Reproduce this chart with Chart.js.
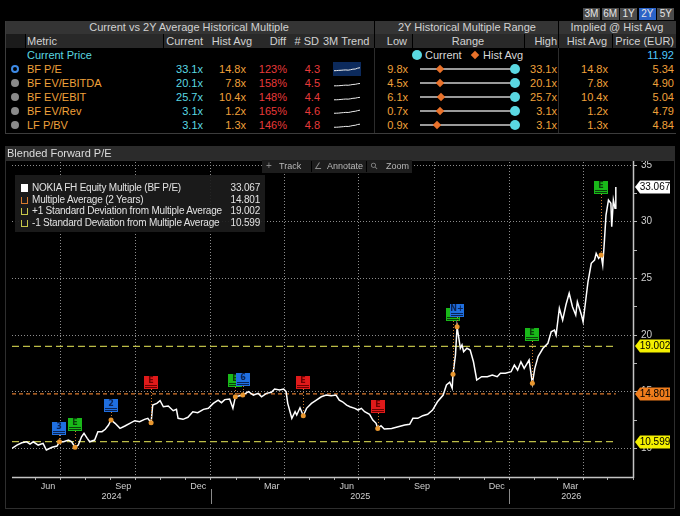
<!DOCTYPE html>
<html>
<head>
<meta charset="utf-8">
<title>NOKIA FH Blended Forward P/E</title>
<script src="https://cdn.jsdelivr.net/npm/chart.js@4.4.1/dist/chart.umd.min.js"></script>
<style>
html,body{margin:0;padding:0;background:#000;}
#page{position:relative;width:680px;height:516px;overflow:hidden;background:#000;
font-family:"Liberation Sans",Arial,sans-serif;font-size:11px;color:#cfcfcf;}
#page div{position:absolute;}
.t{white-space:nowrap;line-height:14px;height:14px;}
canvas{position:absolute;}
</style>
</head>
<body>
<div id="page">
<canvas id="peChart" width="670" height="350" style="left:5px;top:155px;width:670px;height:350px"></canvas>
</div>
<script>
/* -------- TABLE DATA -------- */
const rangeButtons = ['3M','6M','1Y','2Y','5Y'];
const metricNames = ['BF P/E','BF EV/EBITDA','BF EV/EBIT','BF EV/Rev','LF P/BV'];
const currentMult = [33.1,20.1,25.7,3.1,3.1];
const histAvgMult = [14.8,7.8,10.4,1.2,1.3];
const diffPct = [123,158,148,165,146];
const sdCount = [4.3,4.5,4.4,4.6,4.8];
const lowMult = [9.8,4.5,6.1,0.7,0.9];
const highMult = [33.1,20.1,25.7,3.1,3.1];
const impliedPrice = [5.34,4.90,5.04,4.79,4.84];
const currentPrice = 11.92;

const trendPE = [19.5,20,21,21.5,22.5,23,22,24,26.5,27,31,33.1];
const trendEvEbitda = [11.5,11.6,11.9,12.6,13.4,14,13.6,15,16.5,17,19,20.1];
const trendEvEbit = [14.5,14.7,15.2,16.2,17.2,18,17.5,19.2,21.3,22,24.5,25.7];
const trendEvRev = [1.7,1.72,1.78,1.9,2.0,2.1,2.05,2.25,2.5,2.6,2.9,3.1];
const trendPBV = [1.7,1.71,1.78,1.88,1.98,2.1,2.05,2.25,2.5,2.6,2.95,3.1];

/* -------- CHART DATA -------- */
const dates = [
'2024-05-03','2024-05-09','2024-05-15','2024-05-21','2024-05-25','2024-05-29','2024-06-04','2024-06-10',
'2024-06-14','2024-06-21','2024-06-27','2024-06-30','2024-07-05','2024-07-11','2024-07-15','2024-07-19',
'2024-07-23','2024-07-27','2024-07-30','2024-08-03','2024-08-06','2024-08-12','2024-08-16','2024-08-21',
'2024-08-25','2024-08-29','2024-09-01','2024-09-06','2024-09-12','2024-09-18','2024-09-24','2024-09-30',
'2024-10-06','2024-10-12','2024-10-16','2024-10-20','2024-10-22','2024-10-27','2024-10-31','2024-11-04',
'2024-11-10','2024-11-16','2024-11-20','2024-11-22','2024-11-28','2024-12-04','2024-12-10','2024-12-16',
'2024-12-23','2024-12-29','2025-01-04','2025-01-10','2025-01-14','2025-01-18','2025-01-24','2025-01-28',
'2025-01-31','2025-02-09','2025-02-16','2025-02-22','2025-02-28','2025-03-04','2025-03-10','2025-03-16',
'2025-03-20','2025-03-26','2025-03-31','2025-04-03','2025-04-05','2025-04-10','2025-04-14','2025-04-16',
'2025-04-20','2025-04-24','2025-04-28','2025-05-04','2025-05-10','2025-05-16','2025-05-22','2025-05-28',
'2025-06-03','2025-06-07','2025-06-11','2025-06-16','2025-06-20','2025-06-26','2025-06-30','2025-07-04',
'2025-07-08','2025-07-14','2025-07-18','2025-07-22','2025-07-24','2025-07-28','2025-08-01','2025-08-10',
'2025-08-18','2025-08-26','2025-09-01','2025-09-05','2025-09-11','2025-09-17','2025-09-23','2025-09-29',
'2025-10-05','2025-10-12','2025-10-16','2025-10-20','2025-10-23','2025-10-24','2025-10-27','2025-10-29',
'2025-11-02','2025-11-04','2025-11-06','2025-11-10','2025-11-14','2025-11-18','2025-11-22','2025-11-28',
'2025-12-05','2025-12-11','2025-12-17','2025-12-21','2025-12-27','2026-01-03','2026-01-07','2026-01-11',
'2026-01-15','2026-01-19','2026-01-25','2026-01-29','2026-02-01','2026-02-05','2026-02-11','2026-02-17',
'2026-02-21','2026-02-25','2026-02-27','2026-03-03','2026-03-07','2026-03-11','2026-03-15','2026-03-19',
'2026-03-23','2026-03-25','2026-03-30','2026-04-01','2026-04-05','2026-04-07','2026-04-11','2026-04-15',
'2026-04-17','2026-04-20','2026-04-23','2026-04-25','2026-04-27','2026-04-29','2026-05-02','2026-05-05',
'2026-05-06','2026-05-08','2026-05-10','2026-05-11'
];
const multiple = [
10.00,10.29,10.49,10.58,10.38,10.58,10.29,10.44,
9.85,10.09,10.20,10.58,10.58,10.73,10.58,10.09,
10.29,11.02,11.32,10.88,10.58,10.73,11.47,11.47,
11.68,12.06,12.50,12.21,11.76,11.97,12.21,12.44,
12.35,12.56,12.65,12.26,13.82,13.97,14.20,13.67,
13.73,13.32,13.44,12.65,12.56,12.74,13.23,13.14,
13.44,13.53,13.97,14.26,14.03,14.30,14.35,13.53,
14.55,14.70,15.00,14.70,14.85,14.55,14.85,14.94,
15.23,15.15,15.23,15.00,13.97,12.65,13.23,12.94,
13.58,12.88,13.53,13.97,14.26,14.55,14.70,14.64,
14.70,14.26,14.11,13.82,13.67,13.53,13.38,13.53,
13.23,13.00,12.50,12.21,11.76,11.99,11.70,11.76,
11.91,12.06,12.12,12.65,12.65,12.88,13.00,13.38,
14.11,14.70,15.59,15.83,15.30,16.53,18.23,20.73,
18.83,19.12,18.53,18.83,18.68,17.64,16.03,16.32,
16.32,16.47,16.32,16.62,16.62,16.76,17.35,16.91,
17.64,17.06,17.79,15.74,17.06,18.09,18.83,19.27,
20.29,20.44,20.00,22.36,21.32,22.65,23.68,22.50,
21.77,22.94,21.77,21.17,23.53,24.70,26.33,26.62,
27.21,26.77,27.06,26.18,28.24,30.59,31.91,31.62,
29.56,31.91,31.18,33.067
];
const lastMultiple = 33.067;
const avgMultiple = 14.801;
const plusSD = 19.002;
const minusSD = 10.599;

const eventDates = ['2024-06-30','2024-07-19','2024-09-01','2024-10-20','2025-01-31','2025-02-09',
'2025-04-24','2025-07-24','2025-10-24','2025-10-29','2026-01-29','2026-04-23'];
const eventLabels = ['3','E','2','E','E','6','E','E','E','N+','E','E'];
const eventKinds = ['blue','green','blue','red','green','blue','red','red','green','blue','green','green'];
const eventFlagTop = [12.35,12.65,14.32,16.38,16.53,16.67,16.38,14.26,22.38,22.71,20.64,33.59];

const yTickValues = [10,12.5,15,17.5,20,22.5,25,27.5,30,32.5,35];
const monthNames = ['Jan','Feb','Mar','Apr','May','Jun','Jul','Aug','Sep','Oct','Nov','Dec'];
const monthLabelKeys = ['2024-06','2024-09','2024-12','2025-03','2025-06','2025-09','2025-12','2026-03'];
const yearLabels = ['2024','2025','2026'];

/* -------- HELPERS -------- */
const page = document.getElementById('page');
const BASE = Date.UTC(2025,0,1);
function dayOf(s){
const p = s.split('-');
return (Date.UTC(+p[0],+p[1]-1,+(p[2]||1))-BASE)/864e5;
}
function box(x,y,w,h,bg,extra){
const d=document.createElement('div');
d.style.cssText=`left:${x}px;top:${y}px;width:${w}px;height:${h}px;background:${bg};${extra||''}`;
page.appendChild(d);
return d;
}
function txt(s,x,yc,color,align,size,extra){
const d=document.createElement('div');
d.className='t';
d.textContent=s;
let css=`top:${yc-7}px;color:${color};font-size:${size||11}px;`;
if(align==='right') css+=`right:${680-x}px;text-align:right;`;
else if(align==='center') css+=`left:${x-150}px;width:300px;text-align:center;`;
else css+=`left:${x}px;`;
d.style.cssText=css+(extra||'');
page.appendChild(d);
return d;
}

const ORANGE='#f0a13a', CYAN='#5ad8e2', RED='#e83a3a', HEAD='#d2d2d2';

/* -------- TOP TABLE -------- */
rangeButtons.forEach((b,i)=>{
const x=583+i*18.6;
box(x,8,17,12,b==='2Y'?'#2b63c8':'#4b4b4b');
txt(b,x+8.5,14,'#e6e6e6','center',10);
});

box(5,21,671,13,'#343434');
box(5,34,671,14,'#292929');
box(5,34,20,14,'#1b1b1b');
[374,558].forEach(x=>box(x,21,1,27,'#000'));
[25,163,412,524,612].forEach(x=>box(x,34,1,14,'#000'));
[374,558].forEach(x=>box(x,48,1,86,'#2c2c2c'));
box(5,21,1,113,'#3c3c3c');
box(5,133,671,1,'#3c3c3c');

txt('Current vs 2Y Average Historical Multiple',189,27,HEAD,'center');
txt('2Y Historical Multiple Range',467,27,HEAD,'center');
txt('Implied @ Hist Avg',617,27,HEAD,'center');

txt('Metric',27,41,HEAD);
txt('Current',203,41,HEAD,'right');
txt('Hist Avg',252,41,HEAD,'right');
txt('Diff',286,41,HEAD,'right');
txt('# SD',319,41,HEAD,'right');
txt('3M Trend',323,41,HEAD);
txt('Low',407,41,HEAD,'right');
txt('Range',468,41,HEAD,'center');
txt('High',557,41,HEAD,'right');
txt('Hist Avg',607,41,HEAD,'right');
txt('Price (EUR)',674,41,HEAD,'right');

txt('Current Price',27,55,CYAN);
box(412,50,10,10,CYAN,'border-radius:50%;');
txt('Current',425,55,'#d8d8d8');
box(472,52,6,6,'#e8712a','transform:rotate(45deg);');
txt('Hist Avg',483,55,'#d8d8d8');
txt(currentPrice.toFixed(2),674,55,'#4fc8ff','right');

const rowY=[69,83,97,111,125];
const trends=[trendPE,trendEvEbitda,trendEvEbit,trendEvRev,trendPBV];
metricNames.forEach((m,i)=>{
const y=rowY[i];
if(i===0) box(11,y-4,8,8,'#000','border:2px solid #3d8ae6;border-radius:50%;box-sizing:border-box;');
else box(11,y-4,8,8,'#8a8a8a','border-radius:50%;');
txt(m,27,y,ORANGE);
txt(currentMult[i].toFixed(1)+'x',203,y,CYAN,'right');
txt(histAvgMult[i].toFixed(1)+'x',246,y,ORANGE,'right');
txt(diffPct[i]+'%',287,y,RED,'right');
txt(sdCount[i].toFixed(1),320,y,RED,'right');
txt(lowMult[i].toFixed(1)+'x',408,y,ORANGE,'right');
txt(highMult[i].toFixed(1)+'x',557,y,ORANGE,'right');
txt(histAvgMult[i].toFixed(1)+'x',608,y,ORANGE,'right');
txt(impliedPrice[i].toFixed(2),674,y,ORANGE,'right');

// range slider
const x0=420, w=95;
box(x0,y-1,w,2,'#9a9a9a');
const hx=x0+(histAvgMult[i]-lowMult[i])/(highMult[i]-lowMult[i])*w;
const cx=x0+(currentMult[i]-lowMult[i])/(highMult[i]-lowMult[i])*w;
box(hx-3,y-3,6,6,'#e8712a','transform:rotate(45deg);');
box(cx-5,y-5,10,10,CYAN,'border-radius:50%;');

// 3M trend sparkline
if(i===0) box(333,y-7,28,14,'#0c2a5c');
const c=document.createElement('canvas');
c.width=28;c.height=13;
c.style.cssText=`left:333px;top:${y-6}px;width:28px;height:13px;`;
page.appendChild(c);
new Chart(c,{
type:'line',
data:{labels:trends[i].map((v,k)=>k),datasets:[{data:trends[i],borderColor:'#ececec',borderWidth:1,pointRadius:0,tension:0}]},
options:{responsive:false,animation:false,events:[],layout:{padding:1},
plugins:{legend:{display:false},tooltip:{enabled:false}},
scales:{x:{display:false},y:{display:false}}}
});
});

/* -------- CHART FRAME -------- */
box(5,146,670,14,'#2b2b2b');
txt('Blended Forward P/E',7,153,'#dcdcdc','left',11);
box(5,160,670,349,'transparent','border:1px solid #2e2e2e;box-sizing:border-box;');

box(262,160,150,13,'#1d1d1d');
txt('+',266,166,'#8a8a8a','left',10);
txt('Track',279,166,'#b8b8b8','left',9);
box(311,161,1,11,'#000');
txt('\u2220',314,166,'#8a8a8a','left',9,'font-family:"DejaVu Sans";');
txt('Annotate',327,166,'#b8b8b8','left',9);
box(366,161,1,11,'#000');
txt('\u26B2',371,166,'#8a8a8a','left',9,'font-family:"DejaVu Sans";transform:rotate(-45deg);');
txt('Zoom',386,166,'#b8b8b8','left',9);

/* -------- LEGEND -------- */
box(15,175,250,57,'rgba(28,28,28,0.92)');
const legendNames=['NOKIA FH Equity Multiple (BF P/E)','Multiple Average (2 Years)','+1 Standard Deviation from Multiple Average','-1 Standard Deviation from Multiple Average'];
const legendValues=[lastMultiple,avgMultiple,plusSD,minusSD];
const legendColors=['#ffffff','#d8792d','#c8c84a','#c8c84a'];
const legendY=[188,200,211,223];
legendNames.forEach((n,i)=>{
const y=legendY[i];
if(i===0) box(21,y-4,7,8,'#fff');
else box(21,y-3,5,6,'transparent',`border:1px solid ${legendColors[i]};border-top:none;`);
txt(n,32,y,'#e2e2e2','left',10,'letter-spacing:-0.2px;');
txt(legendValues[i].toFixed(3),260,y,'#e2e2e2','right',10,'letter-spacing:-0.2px;');
});

/* -------- MAIN CHART -------- */
Chart.defaults.font.family='"Liberation Sans", Arial, sans-serif';

const xMin=dayOf(dates[0]);
const xMax=dayOf('2026-06-01');
const xEnd=dayOf(dates[dates.length-1]);

const monthStarts=[];
const quarterStarts=new Set();
for(let y=2024,m=5; y<2026||m<=5; ){
const v=(Date.UTC(y,m,1)-BASE)/864e5;
monthStarts.push(v);
if(m%3===0) quarterStarts.add(v);
m++; if(m>11){m=0;y++;}
}
const monthStartSet=new Set(monthStarts);
const monthLabelAt={};
monthLabelKeys.forEach(k=>{
const p=k.split('-');
const s=(Date.UTC(+p[0],+p[1]-1,1)-BASE)/864e5;
const e=(Date.UTC(+p[0],+p[1],1)-BASE)/864e5;
monthLabelAt[(s+e)/2]=monthNames[+p[1]-1];
});
const monthLabelDays=Object.keys(monthLabelAt).map(Number);

const yearBreaks=[dayOf('2025-01-01'),dayOf('2026-01-01')];
const yearEdges=[xMin].concat(yearBreaks,[xMax]);
const yearMid=yearLabels.map((l,i)=>(yearEdges[i]+yearEdges[i+1])/2);

const seriesPts=dates.map((d,i)=>({x:dayOf(d),y:multiple[i]}));
const eventValues=eventDates.map(d=>multiple[dates.indexOf(d)]);
const eventPts=eventDates.map((d,i)=>({x:dayOf(d),y:eventValues[i]}));
const flat=v=>[{x:xMin,y:v},{x:xEnd,y:v}];

const flagColors={
blue:{fill:'#1f6fe0',ink:'#0b2352'},
green:{fill:'#19b819',ink:'#0a3d0a'},
red:{fill:'#e01a1a',ink:'#6b0000'}
};

const bbgDecor={
id:'bbgDecor',
afterDatasetsDraw(chart){
const {ctx,chartArea:a,scales:{x,y}}=chart;
ctx.save();
eventDates.forEach((d,i)=>{
const px=Math.round(x.getPixelForValue(dayOf(d)));
const top=Math.round(y.getPixelForValue(eventFlagTop[i]));
const dotY=y.getPixelForValue(eventValues[i]);
ctx.strokeStyle='#c9782c';
ctx.lineWidth=1;
ctx.setLineDash([1,2]);
ctx.beginPath();ctx.moveTo(px+0.5,top+13);ctx.lineTo(px+0.5,dotY-2);ctx.stroke();
ctx.setLineDash([]);
const c=flagColors[eventKinds[i]];
ctx.fillStyle=c.fill;
ctx.fillRect(px-7,top,14,13);
ctx.fillStyle=c.ink;
ctx.fillRect(px-6,top+9,12,1);
ctx.fillRect(px-6,top+11,12,1);
ctx.font='bold 8px "DejaVu Sans", sans-serif';
ctx.textAlign='center';ctx.textBaseline='middle';
ctx.fillText(eventLabels[i],px,top+5);
});
ctx.restore();
},
afterDraw(chart){
const {ctx,chartArea:a,scales:{x,y}}=chart;
ctx.save();
// axis lines
ctx.strokeStyle='#c4c4c4';ctx.lineWidth=1.5;
ctx.beginPath();
ctx.moveTo(a.left,a.bottom+0.5);ctx.lineTo(a.right+1,a.bottom+0.5);
ctx.moveTo(a.right+0.5,a.top-2);ctx.lineTo(a.right+0.5,a.bottom+1);
ctx.stroke();
// year labels and separators
ctx.strokeStyle='#8a8a8a';ctx.lineWidth=1;
yearBreaks.forEach(v=>{
const px=Math.round(x.getPixelForValue(v))+0.5;
ctx.beginPath();ctx.moveTo(px,a.bottom+12);ctx.lineTo(px,a.bottom+27);ctx.stroke();
});
ctx.fillStyle='#cfcfcf';
ctx.font='9px "Liberation Sans", Arial, sans-serif';
ctx.textAlign='center';ctx.textBaseline='middle';
yearLabels.forEach((l,i)=>ctx.fillText(l,x.getPixelForValue(yearMid[i]),a.bottom+20));
// value tags on the right axis
const tags=[[plusSD,'#f4f000','#000'],[avgMultiple,'#f07d1c','#000'],[minusSD,'#f4f000','#000'],[lastMultiple,'#ffffff','#000']];
ctx.font='10px "Liberation Sans", Arial, sans-serif';
tags.forEach(([v,bg,fg])=>{
const ty=Math.round(y.getPixelForValue(v));
const x0=a.right+2;
ctx.fillStyle=bg;
ctx.beginPath();
ctx.moveTo(x0,ty);ctx.lineTo(x0+5,ty-6.5);ctx.lineTo(x0+35,ty-6.5);
ctx.lineTo(x0+35,ty+6.5);ctx.lineTo(x0+5,ty+6.5);ctx.closePath();
ctx.fill();
ctx.fillStyle=fg;
ctx.fillText(v.toFixed(3),x0+20,ty+0.5);
});
ctx.restore();
}
};

new Chart(document.getElementById('peChart'),{
type:'line',
data:{
datasets:[
{data:eventPts,showLine:false,pointRadius:2.5,pointBackgroundColor:'#e8962e',pointBorderWidth:0,order:0},
{data:seriesPts,borderColor:'#ffffff',borderWidth:1.5,pointRadius:0,tension:0,order:1},
{data:flat(avgMultiple),borderColor:'#d9782d',borderWidth:1.2,borderDash:[4,3],pointRadius:0,order:2},
{data:flat(plusSD),borderColor:'#bcbc46',borderWidth:1.2,borderDash:[7,4],pointRadius:0,order:3},
{data:flat(minusSD),borderColor:'#bcbc46',borderWidth:1.2,borderDash:[7,4],pointRadius:0,order:4}
]
},
options:{
responsive:false,
animation:false,
events:[],
layout:{padding:{left:7,top:7,right:0,bottom:0}},
plugins:{legend:{display:false},tooltip:{enabled:false}},
scales:{
x:{
type:'linear',position:'bottom',min:xMin,max:xMax,
afterBuildTicks:s=>{s.ticks=monthStarts.concat(monthLabelDays).sort((p,q)=>p-q).map(v=>({value:v}));},
afterFit:s=>{s.height=28;s.paddingLeft=0;s.paddingRight=0;},
ticks:{autoSkip:false,maxRotation:0,color:'#cfcfcf',font:{size:9},padding:1,
callback:v=>monthLabelAt[v]||''},
grid:{
color:c=>c.tick&&quarterStarts.has(c.tick.value)?'#8c8c8c':'rgba(0,0,0,0)',
tickColor:c=>c.tick&&monthStartSet.has(c.tick.value)?'#aaaaaa':'rgba(0,0,0,0)',
tickLength:3,lineWidth:1
},
border:{display:false,dash:[1,2]}
},
y:{
position:'right',min:7.47,max:35.27,
afterBuildTicks:s=>{s.ticks=yTickValues.map(v=>({value:v}));},
afterFit:s=>{s.width=42;s.paddingTop=0;s.paddingBottom=0;},
ticks:{autoSkip:false,color:'#cfcfcf',font:{size:10},padding:4,
callback:v=>v%5===0?String(v):''},
grid:{
color:c=>c.tick&&c.tick.value%5===0?'#8c8c8c':'rgba(0,0,0,0)',
tickColor:'#b4b4b4',tickLength:4,lineWidth:1
},
border:{display:false,dash:[1,2]}
}
}
},
plugins:[bbgDecor]
});
</script>
</body>
</html>
